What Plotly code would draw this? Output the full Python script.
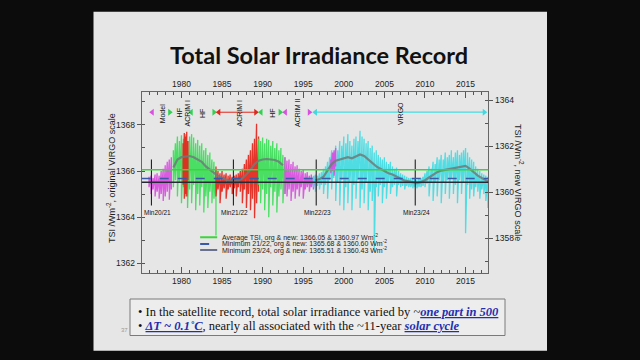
import numpy as np
import plotly.graph_objects as go

# ---------------- data ----------------
YEAR_TICKS = [1980, 1985, 1990, 1995, 2000, 2005, 2010, 2015]
LEFT_TICKS = [1362, 1364, 1366, 1368]
RIGHT_TICKS = [1358, 1360, 1362, 1364]
X_RANGE = [1975.1, 2017.8]
Y_RANGE = [1361.59, 1369.44]
SCALE_OFFSET = 5.08          # original VIRGO - new VIRGO

AVG_TSI = 1366.05
MIN_21_22 = 1365.68
MIN_23_24 = 1365.51

MINIMA_YEARS = [1976.3, 1986.4, 1996.6, 2008.8]
MINIMA_LABELS = ["Min20/21", "Min21/22", "Min22/23", "Min23/24"]
MINIMA_LABEL_X = [1977.0, 1986.5, 1996.8, 2008.9]

STEP = 0.25

# Model (magenta) cycle 20/21 minimum
model_start = 1976.0
model_hi = [1365.75, 1365.8, 1365.7, 1365.85, 1365.9, 1365.8, 1366.0, 1366.1, 1366.25, 1366.4, 1366.5, 1366.6]
model_lo = [1365.3, 1365.0, 1365.2, 1364.9, 1365.1, 1364.8, 1365.0, 1364.7, 1364.9, 1365.1, 1364.75, 1365.2]

# HF (green) cycle 21
hf1_start = 1979.0
hf1_hi = [1366.9, 1367.2, 1367.5, 1367.3, 1367.55, 1367.4, 1367.6, 1367.3, 1367.5, 1367.6, 1367.45,
          1367.2, 1367.35, 1367.1, 1367.2, 1366.9, 1367.0, 1366.7, 1366.8, 1366.5, 1366.4, 1366.1]
hf1_lo = [1365.3, 1365.6, 1364.9, 1365.5, 1364.6, 1365.3, 1364.9, 1364.4, 1365.2, 1364.6, 1365.4,
          1364.3, 1365.0, 1364.5, 1365.3, 1364.2, 1364.9, 1364.4, 1365.1, 1364.6, 1364.8, 1363.2]

# ACRIM I (red) early burst
acrim1a_t = [1980.2, 1980.35, 1980.5, 1980.65, 1980.8]
acrim1a_hi = [1367.2, 1367.65, 1367.5, 1367.7, 1367.3]
acrim1a_lo = [1365.4, 1364.8, 1365.0, 1364.9, 1365.6]

# ACRIM I (red) 1984-1989
acrim1_start = 1984.25
acrim1_hi = [1366.2, 1366.0, 1365.9, 1366.0, 1365.85, 1365.9, 1365.8, 1365.85, 1365.75, 1365.8, 1365.85,
             1365.9, 1366.0, 1366.1, 1366.3, 1366.5, 1366.7, 1366.9, 1367.2, 1367.4, 1368.05, 1367.5]
acrim1_lo = [1364.9, 1365.2, 1364.6, 1365.1, 1365.25, 1364.8, 1365.2, 1365.3, 1365.0, 1365.25, 1364.9,
             1365.3, 1365.1, 1364.6, 1365.2, 1364.4, 1365.0, 1364.3, 1364.8, 1363.95, 1364.6, 1365.1]

# HF (green) cycle 22
hf2_start = 1989.5
hf2_hi = [1367.4, 1367.3, 1367.45, 1367.2, 1367.4, 1367.35, 1367.1, 1367.3, 1367.0, 1367.2, 1366.9, 1367.0, 1366.7, 1366.6]
hf2_lo = [1365.4, 1364.6, 1365.2, 1364.3, 1365.0, 1364.0, 1365.3, 1364.5, 1365.1, 1364.2, 1364.9, 1365.2, 1364.6, 1365.0]

# ACRIM II (magenta)
acrim2_start = 1992.75
acrim2_hi = [1366.6, 1366.45, 1366.5, 1366.3, 1366.4, 1366.2, 1366.25, 1366.1, 1366.0, 1366.05, 1365.9, 1365.95, 1365.8, 1365.85, 1365.75, 1365.8]
acrim2_lo = [1365.0, 1364.9, 1365.2, 1364.7, 1365.1, 1364.8, 1365.2, 1364.9, 1365.3, 1364.8, 1365.2, 1365.3, 1365.1, 1365.3, 1365.2, 1365.4]

acrim2b_t = [1998.4, 1998.6, 1998.8, 1999.0]
acrim2b_hi = [1366.5, 1366.8, 1366.9, 1367.0]
acrim2b_lo = [1365.9, 1366.0, 1365.8, 1366.2]

# VIRGO (cyan)
virgo_start = 1996.25
virgo_hi = [1365.8, 1365.85, 1365.8, 1365.9, 1365.95, 1366.1, 1366.2, 1366.4, 1366.6, 1366.9, 1366.8, 1367.1,
            1366.9, 1367.3, 1367.1, 1367.5, 1367.2, 1367.6, 1367.3, 1367.1, 1367.4, 1367.5, 1367.3, 1367.75,
            1367.5, 1367.4, 1367.2, 1367.3, 1367.0, 1367.1, 1366.8, 1366.9, 1366.7, 1366.6, 1366.5, 1366.6,
            1366.4, 1366.3, 1366.4, 1366.2, 1366.1, 1366.15, 1366.0, 1365.9, 1365.85, 1365.8, 1365.75, 1365.7,
            1365.7, 1365.65, 1365.65, 1365.6, 1365.65, 1365.7, 1365.75, 1365.9, 1366.0, 1366.2, 1366.1, 1366.4,
            1366.3, 1366.6, 1366.5, 1366.7, 1366.5, 1366.8, 1366.6, 1366.7, 1366.9, 1366.6, 1366.8, 1366.9,
            1366.7, 1366.8, 1366.9, 1367.0, 1366.8, 1366.6, 1366.5, 1366.4, 1366.2, 1366.1, 1366.0, 1365.9,
            1365.85, 1365.8, 1365.75]
virgo_lo = [1365.3, 1365.1, 1365.35, 1365.2, 1365.4, 1365.0, 1365.4, 1364.8, 1365.6, 1365.2, 1365.7, 1364.7,
            1365.5, 1364.5, 1365.6, 1364.3, 1365.3, 1364.6, 1365.5, 1364.3, 1365.4, 1364.8, 1365.6, 1364.4,
            1365.2, 1364.6, 1365.5, 1364.3, 1365.1, 1364.7, 1362.5, 1365.3, 1364.9, 1365.4, 1364.6, 1365.3,
            1364.8, 1365.5, 1365.0, 1365.3, 1365.4, 1364.9, 1365.4, 1365.3, 1365.35, 1365.2, 1365.35, 1365.3,
            1365.3, 1365.25, 1365.3, 1365.25, 1365.3, 1365.3, 1365.35, 1365.3, 1365.45, 1364.9, 1365.5, 1364.7,
            1365.5, 1364.9, 1365.6, 1364.6, 1365.5, 1365.0, 1365.6, 1364.8, 1365.7, 1365.0, 1365.4, 1364.6,
            1365.6, 1365.0, 1365.5, 1363.3, 1365.4, 1364.8, 1365.2, 1364.9, 1365.3, 1365.1, 1364.8, 1365.2,
            1365.0, 1364.7, 1364.4]

# running mean (grey)
mean1_t = [1979.0, 1979.5, 1980.0, 1980.5, 1981.0, 1981.5, 1982.0, 1982.5, 1983.0, 1983.5, 1984.0, 1984.5,
           1985.0, 1985.5, 1986.0, 1986.5, 1987.0, 1987.5, 1988.0, 1988.5, 1989.0, 1989.5, 1990.0, 1990.5,
           1991.0, 1991.5, 1992.0, 1992.5]
mean1_v = [1366.15, 1366.5, 1366.6, 1366.62, 1366.65, 1366.6, 1366.5, 1366.4, 1366.2, 1366.05, 1365.9, 1365.78,
           1365.7, 1365.62, 1365.58, 1365.55, 1365.58, 1365.68, 1365.85, 1366.05, 1366.3, 1366.45, 1366.5, 1366.52,
           1366.5, 1366.48, 1366.4, 1366.25]
mean2_t = [1996.5, 1997.0, 1997.5, 1998.0, 1998.5, 1999.0, 1999.5, 2000.0, 2000.5, 2001.0, 2001.5, 2002.0,
           2002.5, 2003.0, 2003.5, 2004.0, 2004.5, 2005.0, 2005.5, 2006.0, 2006.5, 2007.0, 2007.5, 2008.0,
           2008.5, 2009.0, 2009.5, 2010.0, 2010.5, 2011.0, 2011.5, 2012.0, 2012.5, 2013.0, 2013.5, 2014.0,
           2014.5, 2015.0, 2015.5, 2016.0, 2016.5, 2017.0, 2017.5, 2017.8]
mean2_v = [1365.6, 1365.65, 1365.75, 1366.0, 1366.3, 1366.45, 1366.5, 1366.55, 1366.6, 1366.55, 1366.65, 1366.72,
           1366.65, 1366.5, 1366.35, 1366.2, 1366.1, 1366.0, 1365.9, 1365.85, 1365.75, 1365.65, 1365.58, 1365.55,
           1365.5, 1365.48, 1365.52, 1365.6, 1365.72, 1365.85, 1365.95, 1366.02, 1366.05, 1366.1, 1366.12, 1366.15,
           1366.18, 1366.22, 1366.1, 1365.95, 1365.8, 1365.7, 1365.6, 1365.55]

# instrument timeline row
TIMELINE_Y = 1368.55
mark_years = [1976.4, 1978.55, 1981.2, 1984.0, 1984.6, 1989.15, 1989.8, 1992.15, 1992.8, 1995.75, 1996.5, 2017.3]
mark_symbols = ["triangle-left", "triangle-right", "triangle-left", "triangle-right", "triangle-left",
                "triangle-right", "triangle-left", "triangle-right", "triangle-left", "triangle-right",
                "triangle-left", "triangle-right"]
mark_colors = ["#d94fe0", "#2fd34f", "#2fd34f", "#2fd34f", "#e0281e", "#e0281e", "#2fd34f", "#2fd34f",
               "#d94fe0", "#d94fe0", "#3fd9e0", "#3fd9e0"]
instr_labels = ["Model", "HF", "ACRIM I", "HF", "ACRIM I", "HF", "ACRIM II", "VIRGO"]
instr_label_x = [1977.6, 1979.7, 1980.7, 1982.6, 1987.1, 1991.2, 1994.3, 2007.0]
span_red = [1984.6, 1989.15]
span_cyan = [1996.5, 2017.3]

LEGEND_TEXT = ["Average TSI, org & new: 1366.05 & 1360.97 Wm<sup>-2</sup>",
               "Minimum 21/22, org & new: 1365.68 & 1360.60 Wm<sup>-2</sup>",
               "Minimum 23/24, org & new: 1365.51 & 1360.43 Wm<sup>-2</sup>"]

# ---------------- styling ----------------
W, H = 640, 360
def px(x): return x / W
def py(y): return 1 - y / H

GREEN, RED, MAG, CYAN = "#3ddf5a", "#e3261c", "#d94fe0", "#43dde3"
AXIS_FONT = dict(family="Liberation Sans, Arial", size=8.5, color="#222")
SLIDE_BG = "#e6e6e6"

fig = go.Figure()

def zig(t, hi, lo, color, name):
    t = np.asarray(t, float)
    x = np.repeat(t, 2)
    y = np.column_stack([hi, lo]).ravel()
    fig.add_trace(go.Scatter(x=x, y=y, mode="lines", line=dict(color=color, width=1.3),
                             opacity=0.92, name=name, showlegend=False, hoverinfo="skip"))

def grid(start, n):
    return start + STEP * np.arange(n)

zig(grid(model_start, len(model_hi)), model_hi, model_lo, MAG, "Model")
zig(grid(hf1_start, len(hf1_hi)), hf1_hi, hf1_lo, GREEN, "HF")
zig(acrim1a_t, acrim1a_hi, acrim1a_lo, RED, "ACRIM I")
zig(grid(acrim1_start, len(acrim1_hi)), acrim1_hi, acrim1_lo, RED, "ACRIM I")
zig(grid(hf2_start, len(hf2_hi)), hf2_hi, hf2_lo, GREEN, "HF")
zig(grid(acrim2_start, len(acrim2_hi)), acrim2_hi, acrim2_lo, MAG, "ACRIM II")
zig(grid(virgo_start, len(virgo_hi)), virgo_hi, virgo_lo, CYAN, "VIRGO")
zig(acrim2b_t, acrim2b_hi, acrim2b_lo, MAG, "ACRIM II")

for mt, mv in [(mean1_t, mean1_v), (mean2_t, mean2_v)]:
    fig.add_trace(go.Scatter(x=mt, y=mv, mode="lines", line=dict(color="#6f7c7a", width=2.2),
                             opacity=0.85, showlegend=False, hoverinfo="skip"))

# timeline spans + markers
fig.add_trace(go.Scatter(x=span_red, y=[TIMELINE_Y] * 2, mode="lines",
                         line=dict(color=RED, width=1), showlegend=False, hoverinfo="skip"))
fig.add_trace(go.Scatter(x=span_cyan, y=[TIMELINE_Y] * 2, mode="lines",
                         line=dict(color=CYAN, width=1.2), showlegend=False, hoverinfo="skip"))
fig.add_trace(go.Scatter(x=mark_years, y=[TIMELINE_Y] * len(mark_years), mode="markers",
                         marker=dict(symbol=mark_symbols, color=mark_colors, size=6),
                         showlegend=False, hoverinfo="skip"))
for lx, lt in zip(instr_label_x, instr_labels):
    fig.add_annotation(x=lx, y=TIMELINE_Y - 0.05, text=lt, textangle=-90, showarrow=False,
                       xanchor="center", yanchor="middle",
                       font=dict(family="Liberation Sans, Arial", size=7, color="#111"))

# minima markers
for mx in MINIMA_YEARS:
    fig.add_trace(go.Scatter(x=[mx, mx], y=[1364.5, 1366.5], mode="lines",
                             line=dict(color="#222", width=1.1), showlegend=False, hoverinfo="skip"))
for lx, lt in zip(MINIMA_LABEL_X, MINIMA_LABELS):
    fig.add_annotation(x=lx, y=1364.2, text=lt, showarrow=False, xanchor="center", yanchor="middle",
                       font=dict(family="Liberation Sans, Arial", size=6.5, color="#111"))

# reference lines
fig.add_hline(y=AVG_TSI, line=dict(color="#3cd43c", width=1.5))
fig.add_hline(y=MIN_21_22, line=dict(color="#3a5aa8", width=1.5, dash="dash"))
fig.add_hline(y=MIN_23_24, line=dict(color="#262a36", width=1.5))

# legend
leg_y = [1363.13, 1362.84, 1362.57]
leg_style = [dict(color="#3cd43c", width=2), dict(color="#3a5aa8", width=2, dash="dash"),
             dict(color="#3f4a70", width=1.5)]
for yy, st, tx in zip(leg_y, leg_style, LEGEND_TEXT):
    fig.add_shape(type="line", xref="x", yref="y", x0=1982.3, x1=1984.4, y0=yy, y1=yy, line=st)
    fig.add_annotation(x=1984.8, y=yy, text=tx, xanchor="left", yanchor="middle", showarrow=False,
                       font=dict(family="Liberation Sans, Arial", size=7, color="#222"))

# invisible trace for secondary axes
fig.add_trace(go.Scatter(x=X_RANGE, y=[Y_RANGE[0] - SCALE_OFFSET] * 2, xaxis="x2", yaxis="y2",
                         mode="lines", line=dict(width=0), showlegend=False, hoverinfo="skip"))

xdom = [px(141.7), px(488.3)]
ydom = [py(272.7), py(91.7)]
common_x = dict(range=X_RANGE, tickvals=YEAR_TICKS, ticks="inside", ticklen=6, tickcolor="#555",
                tickfont=AXIS_FONT, showline=True, linecolor="#666", linewidth=1, showgrid=False,
                zeroline=False, domain=xdom,
                minor=dict(dtick=1, ticks="inside", ticklen=3, tickcolor="#555"))
fig.update_layout(
    width=W, height=H, margin=dict(l=0, r=0, t=0, b=0),
    paper_bgcolor="#0c0c0c", plot_bgcolor=SLIDE_BG,
    xaxis=dict(**common_x, side="bottom"),
    xaxis2=dict(**common_x, side="top", overlaying="x", anchor="y"),
    yaxis=dict(range=Y_RANGE, tickvals=LEFT_TICKS, ticks="outside", ticklen=4, tickcolor="#555",
               tickfont=AXIS_FONT, showline=True, linecolor="#666", linewidth=1, showgrid=False,
               zeroline=False, domain=ydom,
               minor=dict(dtick=1, ticks="inside", ticklen=3, tickcolor="#555")),
    yaxis2=dict(range=[Y_RANGE[0] - SCALE_OFFSET, Y_RANGE[1] - SCALE_OFFSET], tickvals=RIGHT_TICKS,
                ticks="outside", ticklen=4, tickcolor="#555", tickfont=AXIS_FONT, showline=True,
                linecolor="#666", linewidth=1, showgrid=False, zeroline=False, side="right",
                overlaying="y", anchor="x",
                minor=dict(dtick=1, ticks="inside", ticklen=3, tickcolor="#555")),
    showlegend=False,
)

# slide
fig.add_shape(type="rect", xref="paper", yref="paper", x0=px(93.5), x1=px(547), y0=py(350.7), y1=py(11.7),
              fillcolor=SLIDE_BG, line=dict(width=0), layer="below")
# bottom text box
fig.add_shape(type="rect", xref="paper", yref="paper", x0=px(130), x1=px(505), y0=py(335.5), y1=py(299),
              fillcolor="#ededed", line=dict(color="#7a7a7a", width=1), layer="below")

def paper_text(x, y, text, font, angle=0, xanchor="center"):
    fig.add_annotation(xref="paper", yref="paper", x=px(x), y=py(y), text=text, textangle=angle,
                       showarrow=False, xanchor=xanchor, yanchor="middle", font=font)

paper_text(319, 55, "<b>Total Solar Irradiance Record</b>", dict(family="Lato", size=23.5, color="#111"))
paper_text(111, 178, "TSI /Wm<sup>-2</sup>, original VIRGO scale",
           dict(family="Liberation Sans, Arial", size=9, color="#222"), angle=-90)
paper_text(519, 182, "TSI /Wm<sup>-2</sup>, new VIRGO scale",
           dict(family="Liberation Sans, Arial", size=9, color="#222"), angle=90)

LINK = "color:#1f2fb0"
line1 = ("• In the satellite record, total solar irradiance varied by ~"
         f"<span style='{LINK}'><b><i><u>one part in 500</u></i></b></span>")
line2 = (f"• <span style='{LINK}'><b><i><u>ΔT ~ 0.1˚C</u></i></b></span>, nearly all associated with the ~11-year "
         f"<span style='{LINK}'><b><i><u>solar cycle</u></i></b></span>")
serif = dict(family="Liberation Serif", size=12.5, color="#111")
paper_text(136, 311.5, line1, serif, xanchor="left")
paper_text(136, 325.5, line2, serif, xanchor="left")
paper_text(124, 330, "37", dict(family="Liberation Sans", size=6, color="#999"))

fig.write_html("out.html", config={"displayModeBar": False},
               post_script="document.body.style.margin='0px';document.body.style.overflow='hidden';")
